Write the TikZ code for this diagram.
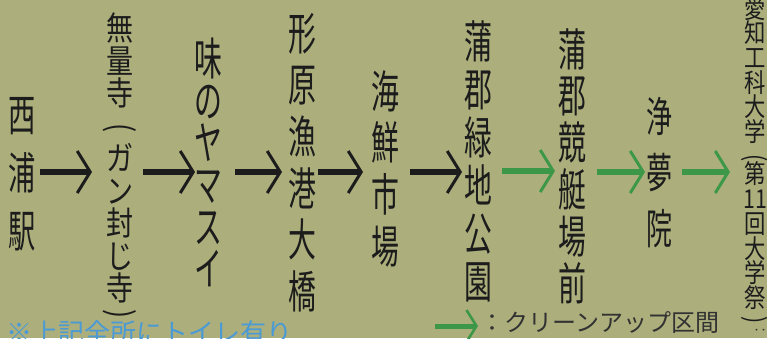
\documentclass[tikz,border=0pt]{standalone}
\usepackage{fontspec}
\usepackage{graphicx}
\usetikzlibrary{arrows.meta}
\newfontfamily\jp{Noto Sans CJK JP}
\newfontfamily\jpn[FakeStretch=0.62]{Noto Sans CJK JP}
\newfontfamily\jpm[FakeStretch=0.82]{Noto Sans CJK JP}
\newcommand\vlp{\rotatebox[origin=c]{-90}{(}}
\newcommand\vrp{\rotatebox[origin=c]{-90}{)}}
\definecolor{khaki}{RGB}{172,175,124}
\definecolor{cleanup}{RGB}{60,152,72}
\definecolor{notecol}{RGB}{74,154,214}
\definecolor{inkcol}{RGB}{28,28,28}
\definecolor{legcol}{RGB}{50,50,50}
\tikzset{
	spot/.style={anchor=north, inner sep=0pt, align=center, text=inkcol},
	walk/.style={line width=6pt, draw=inkcol, -{Straight Barb[length=13pt, width=42pt, line width'=3pt]}},
	clean/.style={walk, draw=cleanup},
	cleankey/.style={line width=5pt, draw=cleanup, -{Straight Barb[length=10pt, width=32pt, line width'=2.6pt]}},
}
\begin{document}
\begin{tikzpicture}[x=1pt, y=-1pt]
		% sfondo
		\fill[khaki] (0, 0) rectangle (767, 338);
		\useasboundingbox (0, 0) rectangle (767, 338);
		% tappe
		\node[spot, font=\jpn\fontsize{44}{58}\selectfont] (nishiura) at (22, 97) {西\\浦\\駅};
		\node[spot, font=\jpm\fontsize{33}{32.5}\selectfont] (muryoji) at (120, 13) {無\\量\\寺\\\vlp\\ガ\\ン\\封\\じ\\寺\\[-9pt]\vrp};
		\node[spot, font=\jpn\fontsize{45}{42}\selectfont] (ajino) at (208, 38) {味\\の\\ヤ\\マ\\ス\\イ};
		\node[spot, font=\jpn\fontsize{45}{51.6}\selectfont] (katahara) at (302, 13) {形\\原\\漁\\港\\大\\橋};
		\node[spot, font=\jpn\fontsize{45}{51.7}\selectfont] (kaisen) at (385, 70) {海\\鮮\\市\\場};
		\node[spot, font=\jpn\fontsize{45}{48}\selectfont] (midori) at (478, 20) {蒲\\郡\\緑\\地\\公\\園};
		\node[spot, font=\jpn\fontsize{45}{46.8}\selectfont] (kyotei) at (572, 28) {蒲\\郡\\競\\艇\\場\\前};
		\node[spot, font=\jpn\fontsize{42}{56}\selectfont] (jomu) at (660, 97) {浄\\夢\\院};
		\node[spot, font=\jpm\fontsize{26}{24.7}\selectfont] (aitech) at (755, -4) {愛\\知\\工\\科\\大\\学\\\vlp\\[-7pt]第\\11\\回\\大\\学\\祭\\[-4pt]\vrp};
		% frecce
		\coordinate (s1) at (40, 172);  \coordinate (e1) at (92, 172);
		\coordinate (s2) at (143, 172); \coordinate (e2) at (195, 172);
		\coordinate (s3) at (235, 172); \coordinate (e3) at (282, 172);
		\coordinate (s4) at (318, 172); \coordinate (e4) at (363, 172);
		\coordinate (s5) at (410, 172); \coordinate (e5) at (462, 172);
		\coordinate (s6) at (502, 171); \coordinate (e6) at (555, 171);
		\coordinate (s7) at (597, 172); \coordinate (e7) at (645, 172);
		\coordinate (s8) at (682, 172); \coordinate (e8) at (730, 172);
		\draw[walk] (s1) -- (e1);
		\draw[walk] (s2) -- (e2);
		\draw[walk] (s3) -- (e3);
		\draw[walk] (s4) -- (e4);
		\draw[walk] (s5) -- (e5);
		\draw[clean] (s6) -- (e6);
		\draw[clean] (s7) -- (e7);
		\draw[clean] (s8) -- (e8);
		% legenda
		\coordinate (k1) at (435, 326);
		\coordinate (k2) at (478, 326);
		\draw[cleankey] (k1) -- (k2);
		\node[anchor=west, inner sep=0pt, text=legcol, font=\jp\fontsize{24}{24}\selectfont] (legend) at (480, 323) {：クリーンアップ区間};
		\node[inner sep=0pt, text=legcol, font=\jp\fontsize{14}{14}\selectfont] (dots) at (760, 332) {‥};
		\node[anchor=north west, inner sep=0pt, text=notecol, font=\jp\fontsize{26}{26}\selectfont] (note) at (6, 320) {※上記全所にトイレ有り};
	\end{tikzpicture}
\end{document}
